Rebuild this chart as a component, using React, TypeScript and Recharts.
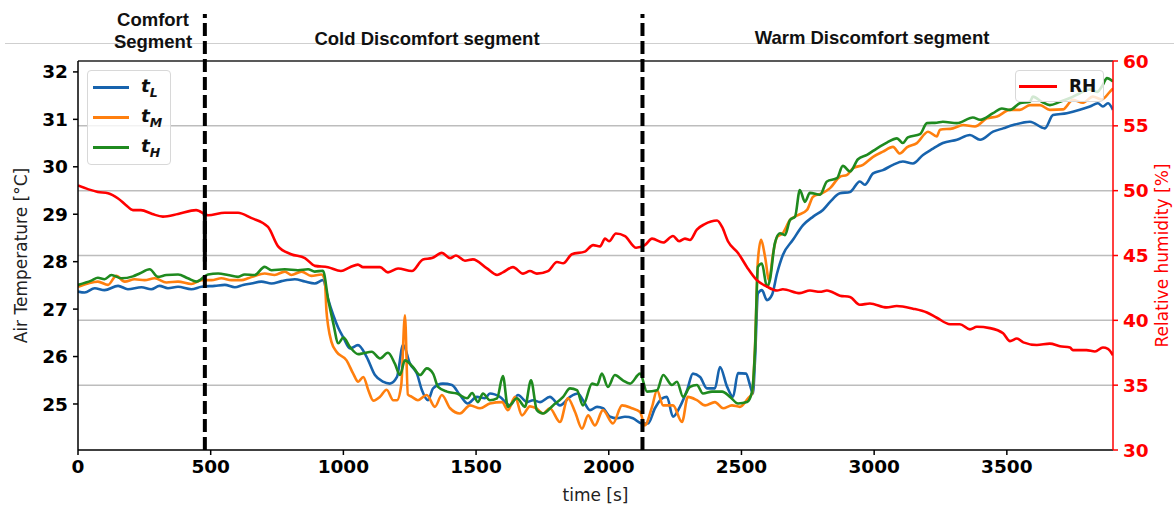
import { LineChart, Line, XAxis, YAxis, ReferenceLine } from 'recharts';

// readings from the figure: time [s] and value
const timeL = [0, 25, 63, 100, 151, 188, 239, 276, 307, 339, 377, 427, 465, 515, 553, 591, 622, 653, 691, 729, 767, 817, 855, 892, 923, 943, 962, 981, 1000, 1025, 1055, 1088, 1119, 1149, 1175, 1202, 1225, 1251, 1277, 1296, 1319, 1338, 1375, 1409, 1439, 1469, 1503, 1533, 1552, 1590, 1628, 1658, 1692, 1715, 1741, 1778, 1816, 1854, 1884, 1903, 1929, 1956, 1978, 2005, 2031, 2061, 2091, 2125, 2148, 2174, 2201, 2219, 2242, 2268, 2295, 2317, 2344, 2370, 2400, 2419, 2446, 2468, 2487, 2517, 2532, 2543, 2551, 2562, 2577, 2596, 2615, 2634, 2656, 2694, 2732, 2770, 2807, 2834, 2871, 2909, 2946, 2965, 2996, 3033, 3071, 3108, 3146, 3184, 3218, 3259, 3312, 3361, 3399, 3448, 3486, 3524, 3587, 3643, 3674, 3726, 3775, 3813, 3843, 3862, 3881, 3900];
const tempL = [27.37, 27.35, 27.44, 27.4, 27.49, 27.42, 27.46, 27.42, 27.49, 27.44, 27.47, 27.42, 27.47, 27.49, 27.51, 27.46, 27.51, 27.54, 27.58, 27.54, 27.59, 27.63, 27.58, 27.54, 27.61, 27.2, 26.87, 26.6, 26.4, 26.17, 26.24, 25.99, 25.61, 25.47, 25.43, 25.57, 26.25, 25.85, 25.64, 25.29, 25.08, 25.33, 25.43, 25.4, 25.19, 25.01, 25.15, 25.12, 25.22, 25.15, 24.97, 25.19, 25.04, 25.08, 25.04, 25.15, 24.97, 25.15, 25.22, 25.08, 24.87, 24.94, 24.91, 24.73, 24.7, 24.73, 24.7, 24.59, 24.59, 24.91, 25.12, 25.15, 24.73, 24.94, 25.29, 25.64, 25.57, 25.33, 25.33, 25.78, 25.36, 25.15, 25.65, 25.64, 25.4, 25.22, 25.92, 27.33, 27.4, 27.19, 27.3, 27.75, 28.14, 28.46, 28.77, 28.95, 29.09, 29.26, 29.44, 29.47, 29.69, 29.62, 29.86, 29.93, 30.04, 30.11, 30.07, 30.25, 30.37, 30.5, 30.57, 30.67, 30.57, 30.74, 30.81, 30.88, 30.95, 30.81, 31.09, 31.13, 31.2, 31.27, 31.34, 31.27, 31.34, 31.2];

const timeM = [0, 38, 75, 113, 144, 176, 213, 251, 289, 333, 377, 427, 465, 503, 540, 578, 616, 641, 666, 703, 741, 779, 804, 842, 879, 917, 930, 936, 943, 955, 974, 1012, 1037, 1056, 1075, 1094, 1113, 1138, 1163, 1188, 1202, 1218, 1232, 1243, 1258, 1281, 1314, 1345, 1371, 1402, 1439, 1477, 1515, 1552, 1598, 1620, 1647, 1673, 1703, 1729, 1752, 1778, 1816, 1846, 1873, 1899, 1922, 1948, 1978, 2016, 2050, 2087, 2118, 2136, 2163, 2182, 2205, 2242, 2276, 2298, 2332, 2363, 2400, 2431, 2464, 2494, 2525, 2540, 2551, 2562, 2574, 2589, 2604, 2619, 2634, 2656, 2683, 2713, 2747, 2770, 2803, 2834, 2871, 2898, 2920, 2958, 2996, 3033, 3071, 3097, 3123, 3161, 3203, 3236, 3248, 3297, 3335, 3380, 3425, 3463, 3512, 3549, 3587, 3625, 3662, 3711, 3749, 3787, 3824, 3858, 3888, 3900];
const tempM = [27.47, 27.54, 27.58, 27.51, 27.7, 27.58, 27.63, 27.61, 27.65, 27.56, 27.58, 27.53, 27.61, 27.61, 27.65, 27.61, 27.61, 27.65, 27.7, 27.75, 27.72, 27.79, 27.72, 27.79, 27.7, 27.73, 27.61, 26.98, 26.63, 26.31, 26.1, 25.92, 25.64, 25.47, 25.57, 25.29, 25.07, 25.15, 25.3, 25.08, 25.08, 25.4, 26.87, 25.2, 25.15, 25.08, 25.19, 24.94, 25.19, 24.91, 24.8, 24.97, 24.91, 25.01, 25.04, 24.87, 25.15, 24.76, 24.95, 24.9, 24.8, 24.91, 24.62, 25.12, 24.83, 24.48, 24.76, 24.55, 24.87, 24.59, 24.97, 24.91, 24.83, 24.55, 24.94, 25.29, 24.97, 24.97, 24.62, 25.15, 25.08, 24.97, 25.04, 24.91, 24.97, 24.94, 25.12, 25.22, 26.2, 28.03, 28.46, 28.1, 27.61, 28.17, 28.52, 28.6, 28.88, 28.98, 29.09, 29.37, 29.44, 29.55, 29.79, 29.83, 29.97, 30.04, 30.21, 30.32, 30.42, 30.28, 30.41, 30.5, 30.74, 30.64, 30.78, 30.81, 30.88, 30.85, 31.02, 31.06, 31.2, 31.2, 31.3, 31.3, 31.2, 31.21, 31.41, 31.35, 31.48, 31.42, 31.58, 31.65];

const timeH = [0, 50, 75, 100, 126, 163, 207, 232, 270, 301, 333, 377, 414, 446, 490, 528, 565, 603, 628, 666, 703, 729, 779, 829, 867, 892, 923, 943, 962, 981, 1000, 1025, 1056, 1075, 1107, 1138, 1168, 1194, 1213, 1232, 1262, 1289, 1314, 1338, 1357, 1390, 1428, 1466, 1485, 1507, 1526, 1552, 1579, 1601, 1620, 1654, 1684, 1707, 1729, 1752, 1790, 1828, 1854, 1880, 1903, 1937, 1956, 1974, 1997, 2023, 2053, 2080, 2118, 2144, 2182, 2205, 2238, 2257, 2280, 2306, 2332, 2355, 2389, 2427, 2457, 2487, 2521, 2540, 2551, 2562, 2577, 2596, 2607, 2626, 2645, 2664, 2683, 2702, 2720, 2739, 2758, 2796, 2822, 2860, 2882, 2909, 2939, 2973, 3011, 3048, 3086, 3108, 3127, 3173, 3199, 3236, 3259, 3312, 3372, 3399, 3448, 3481, 3512, 3549, 3587, 3598, 3632, 3662, 3700, 3738, 3775, 3813, 3840, 3862, 3877, 3900];
const tempH = [27.51, 27.6, 27.66, 27.63, 27.72, 27.65, 27.69, 27.75, 27.84, 27.68, 27.72, 27.73, 27.65, 27.58, 27.73, 27.75, 27.72, 27.68, 27.73, 27.72, 27.89, 27.82, 27.84, 27.82, 27.84, 27.79, 27.81, 27.19, 26.7, 26.28, 26.4, 26.2, 26.05, 26.07, 26.1, 25.96, 26.08, 25.85, 25.61, 25.92, 25.78, 25.61, 25.75, 25.64, 25.36, 25.26, 25.22, 25.12, 25.23, 25.04, 25.22, 25.08, 25.12, 25.59, 24.94, 25.12, 24.94, 25.5, 24.87, 24.8, 24.97, 25.15, 25.33, 25.29, 24.97, 25.43, 25.4, 25.64, 25.36, 25.61, 25.5, 25.43, 25.64, 25.26, 25.29, 25.61, 25.4, 25.47, 25.15, 25.36, 25.4, 25.22, 25.26, 25.26, 25.15, 25.01, 25.04, 25.26, 26.14, 27.89, 27.96, 27.47, 27.61, 28.39, 28.6, 28.56, 28.88, 28.95, 29.51, 29.26, 29.45, 29.41, 29.69, 29.76, 30.02, 29.9, 30.16, 30.25, 30.39, 30.51, 30.6, 30.5, 30.62, 30.69, 30.92, 30.93, 30.95, 30.92, 31.04, 30.99, 31.13, 31.23, 31.2, 31.34, 31.37, 31.48, 31.37, 31.3, 31.37, 31.45, 31.55, 31.63, 31.58, 31.73, 31.87, 31.8];

const timeRH = [0, 40, 75, 113, 151, 180, 207, 237, 280, 320, 377, 445, 490, 553, 603, 652, 716, 754, 803, 855, 893, 942, 991, 1025, 1055, 1074, 1108, 1138, 1168, 1206, 1258, 1300, 1334, 1371, 1402, 1424, 1458, 1488, 1541, 1579, 1601, 1639, 1677, 1703, 1729, 1771, 1805, 1828, 1861, 1910, 1941, 1967, 1986, 2001, 2027, 2061, 2103, 2136, 2163, 2205, 2242, 2265, 2287, 2306, 2332, 2360, 2408, 2427, 2449, 2487, 2521, 2558, 2596, 2634, 2656, 2720, 2758, 2796, 2822, 2871, 2909, 2946, 2984, 3047, 3085, 3146, 3199, 3236, 3286, 3323, 3361, 3387, 3436, 3486, 3512, 3538, 3562, 3613, 3662, 3700, 3738, 3749, 3800, 3832, 3862, 3881, 3900];
const relHum = [50.4, 50.1, 49.9, 49.8, 49.4, 48.9, 48.5, 48.5, 48.2, 48.0, 48.2, 48.5, 48.1, 48.3, 48.3, 47.9, 47.2, 45.7, 45.1, 44.8, 44.2, 44.1, 43.8, 44.1, 44.3, 44.1, 44.1, 44.1, 43.7, 44.0, 43.8, 44.7, 44.8, 45.2, 44.8, 45.0, 44.6, 44.7, 44.0, 43.5, 43.7, 44.1, 43.6, 43.8, 43.6, 43.8, 44.5, 44.4, 45.1, 45.3, 45.8, 45.7, 46.3, 46.1, 46.7, 46.5, 45.6, 45.8, 46.3, 46.0, 46.5, 46.1, 46.3, 46.2, 47.0, 47.4, 47.7, 47.2, 46.1, 45.2, 44.1, 43.1, 42.6, 42.3, 42.4, 42.1, 42.3, 42.2, 42.3, 41.9, 41.8, 41.2, 41.3, 41.0, 41.1, 40.9, 40.6, 40.2, 39.7, 39.7, 39.3, 39.5, 39.4, 39.0, 38.4, 38.6, 38.3, 38.1, 38.2, 38.0, 37.9, 37.7, 37.7, 37.6, 37.9, 37.8, 37.3];

const xTicks = [0, 500, 1000, 1500, 2000, 2500, 3000, 3500];
const tempTicks = [25, 26, 27, 28, 29, 30, 31, 32];
const rhTicks = [30, 35, 40, 45, 50, 55, 60];
const rhGrid = [35, 40, 45, 50, 55];
const segmentBounds = [478, 2127];

const TEMP_DOMAIN: [number, number] = [24.03, 32.23];
const BLUE = '#1763ad';
const ORANGE = '#ff7f0e';
const GREEN = '#1f8a1f';
const RED = '#ff0000';

const rows = (ts: number[], vs: number[]) => ts.map((t, i) => ({ t, v: vs[i] }));

const tickFont = { fontSize: 18.5, fontWeight: 700, fontFamily: 'DejaVu Sans' };
const lineProps = { dataKey: 'v', type: 'monotone' as const, strokeWidth: 2.6, strokeLinejoin: 'round' as const, dot: false, isAnimationActive: false };

export default function App() {
  const dataL = rows(timeL, tempL);
  const dataM = rows(timeM, tempM);
  const dataH = rows(timeH, tempH);
  const dataRH = rows(timeRH, relHum);

  const legendItems = [
    { color: BLUE, sub: 'L' },
    { color: ORANGE, sub: 'M' },
    { color: GREEN, sub: 'H' },
  ];

  return (
    <div style={{ position: 'absolute', left: 0, top: 0, width: 1174, height: 506, background: '#fff', fontFamily: 'DejaVu Sans' }}>
      <svg width={1174} height={506} style={{ position: 'absolute', left: 0, top: 0 }}>
        <line x1={5} x2={1174} y1={43.5} y2={43.5} stroke="#cfcfcf" strokeWidth={1} />
        <g fontFamily="Liberation Sans, Arial" fontWeight={700} fontSize={18.5} fill="#111" textAnchor="middle">
          <text x={153} y={26}>Comfort</text>
          <text x={153} y={48}>Segment</text>
          <text x={427} y={45}>Cold Discomfort segment</text>
          <text x={872} y={44}>Warm Discomfort segment</text>
        </g>
      </svg>
      <div style={{ position: 'absolute', left: 0, top: 0 }}>
        <LineChart width={1174} height={506} margin={{ top: 61, right: 0, bottom: 0, left: 0 }}>
          <XAxis
            dataKey="t"
            type="number"
            domain={[0, 3900]}
            ticks={xTicks}
            allowDataOverflow
            height={56}
            tickSize={5}
            tickMargin={5}
            axisLine={{ stroke: '#000', strokeWidth: 1.5 }}
            tickLine={{ stroke: '#000', strokeWidth: 1.5 }}
            tick={{ ...tickFont, fill: '#000' }}
            label={{ value: 'time [s]', position: 'insideBottom', offset: 5, style: { fontSize: 17, fill: '#222', fontFamily: 'DejaVu Sans' } }}
          />
          <YAxis
            yAxisId="left"
            orientation="left"
            width={78}
            domain={TEMP_DOMAIN}
            ticks={tempTicks}
            allowDataOverflow
            tickSize={5}
            tickMargin={5}
            axisLine={{ stroke: '#000', strokeWidth: 1.5 }}
            tickLine={{ stroke: '#000', strokeWidth: 1.5 }}
            tick={{ ...tickFont, fill: '#000' }}
            label={{ value: 'Air Temperature [°C]', angle: -90, position: 'insideLeft', offset: 21, style: { textAnchor: 'middle', fontSize: 17, fill: '#222', fontFamily: 'DejaVu Sans' } }}
          />
          <YAxis
            yAxisId="right"
            orientation="right"
            width={61}
            domain={[30, 60]}
            ticks={rhTicks}
            allowDataOverflow
            tickSize={5}
            tickMargin={5}
            axisLine={{ stroke: RED, strokeWidth: 1.5 }}
            tickLine={{ stroke: RED, strokeWidth: 1.5 }}
            tick={{ ...tickFont, fill: RED }}
            label={{ value: 'Relative humidity [%]', angle: -90, position: 'insideRight', offset: 12, style: { textAnchor: 'middle', fontSize: 17, fill: RED, fontFamily: 'DejaVu Sans' } }}
          />
          <ReferenceLine yAxisId="right" y={60} stroke="#222" strokeWidth={1.5} />
          {rhGrid.map((g) => (
            <ReferenceLine key={g} yAxisId="right" y={g} stroke="#bdbdbd" strokeWidth={1.5} />
          ))}
          <Line yAxisId="left" data={dataL} stroke={BLUE} {...lineProps} />
          <Line yAxisId="left" data={dataM} stroke={ORANGE} {...lineProps} />
          <Line yAxisId="left" data={dataH} stroke={GREEN} {...lineProps} />
          <Line yAxisId="right" data={dataRH} stroke={RED} {...lineProps} />
          {segmentBounds.map((b) => (
            <ReferenceLine
              key={b}
              yAxisId="left"
              segment={[{ x: b, y: TEMP_DOMAIN[0] }, { x: b, y: 33.22 }]}
              ifOverflow="visible"
              stroke="#000"
              strokeWidth={4}
              strokeDasharray="13 5"
            />
          ))}
          <ReferenceLine yAxisId="left" segment={[{ x: segmentBounds[0], y: 28.0 }, { x: segmentBounds[0], y: 29.26 }]} ifOverflow="visible" stroke="#000" strokeWidth={4} />
        </LineChart>
      </div>

      <div style={{ position: 'absolute', left: 87, top: 70, width: 84, height: 95, boxSizing: 'border-box', border: '1px solid #d8d8d8', borderRadius: 4, background: 'rgba(255,255,255,0.8)' }}>
        {legendItems.map((it, i) => (
          <div key={it.sub} style={{ position: 'absolute', left: 0, top: 16 + i * 30 - 12, height: 24, display: 'flex', alignItems: 'center' }}>
            <div style={{ marginLeft: 5, width: 36, height: 3, background: it.color }} />
            <span style={{ marginLeft: 12, fontSize: 18.5, fontWeight: 700, fontStyle: 'italic', color: '#111' }}>
              t<sub style={{ fontSize: 12.5 }}>{it.sub}</sub>
            </span>
          </div>
        ))}
      </div>

      <div style={{ position: 'absolute', left: 1015, top: 70, width: 89, height: 32, boxSizing: 'border-box', border: '1px solid #d8d8d8', borderRadius: 4, background: 'rgba(255,255,255,0.8)', display: 'flex', alignItems: 'center' }}>
        <div style={{ marginLeft: 3, width: 38, height: 3, background: RED }} />
        <span style={{ marginLeft: 12, fontSize: 17, fontWeight: 700, color: '#111' }}>RH</span>
      </div>
    </div>
  );
}
